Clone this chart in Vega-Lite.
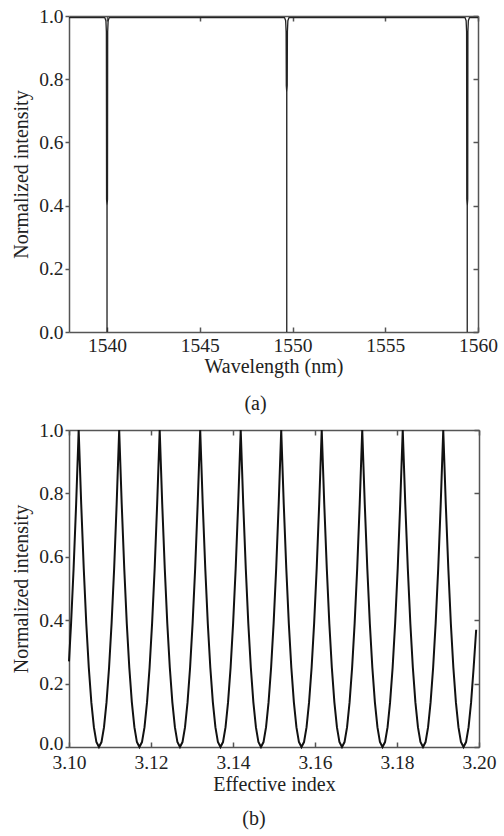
{
  "$schema": "https://vega.github.io/schema/vega-lite/v6.json",
  "padding": {"left": 11, "top": 6, "right": 5, "bottom": 3},
  "spacing": 6,
  "config": {
    "font": "Liberation Serif",
    "view": {"stroke": null},
    "axis": {
      "labelFont": "Liberation Serif", "labelFontSize": 19.5, "labelColor": "#222", "labelFlush": false,
      "titleFont": "Liberation Serif", "titleFontSize": 20, "titleFontWeight": "normal", "titleColor": "#222",
      "domainColor": "#555", "domainWidth": 1.5, "tickColor": "#555", "tickWidth": 1.5, "grid": false
    },
    "title": {"font": "Liberation Serif", "fontSize": 20, "fontWeight": "normal", "color": "#222"}
  },
  "vconcat": [
    {
      "width": 409, "height": 316,
      "title": {"text": "(a)", "orient": "bottom", "anchor": "middle", "frame": "group", "offset": 17, "dx": -18},
      "data": {"values": [
        {"w": 1537.95, "i": 0.995},
        {"w": 1539.88, "i": 0.995}, {"w": 1539.94, "i": 0.985}, {"w": 1539.965, "i": 0.95}, {"w": 1539.975, "i": 0.42}, {"w": 1539.998, "i": 0.40}, {"w": 1540.0, "i": 0.0}, {"w": 1540.002, "i": 0.40}, {"w": 1540.025, "i": 0.42}, {"w": 1540.035, "i": 0.95}, {"w": 1540.06, "i": 0.985}, {"w": 1540.12, "i": 0.995},
        {"w": 1549.57, "i": 0.995}, {"w": 1549.63, "i": 0.985}, {"w": 1549.655, "i": 0.95}, {"w": 1549.665, "i": 0.78}, {"w": 1549.688, "i": 0.76}, {"w": 1549.69, "i": 0.0}, {"w": 1549.692, "i": 0.76}, {"w": 1549.715, "i": 0.78}, {"w": 1549.725, "i": 0.95}, {"w": 1549.75, "i": 0.985}, {"w": 1549.81, "i": 0.995},
        {"w": 1559.30, "i": 0.995}, {"w": 1559.36, "i": 0.985}, {"w": 1559.385, "i": 0.95}, {"w": 1559.395, "i": 0.42}, {"w": 1559.418, "i": 0.40}, {"w": 1559.42, "i": 0.0}, {"w": 1559.422, "i": 0.40}, {"w": 1559.445, "i": 0.42}, {"w": 1559.455, "i": 0.95}, {"w": 1559.48, "i": 0.985}, {"w": 1559.54, "i": 0.995},
        {"w": 1560.0, "i": 0.995}
      ]},
      "layer": [
        {
          "mark": {"type": "line", "color": "#222", "strokeWidth": 1.3},
          "encoding": {
            "x": {"field": "w", "type": "quantitative", "scale": {"domain": [1537.95, 1560], "nice": false, "zero": false},
                  "axis": {"orient": "bottom", "title": "Wavelength (nm)", "values": [1540, 1545, 1550, 1555, 1560], "format": "d", "tickSize": -5, "labelPadding": 9, "titlePadding": 2}},
            "y": {"field": "i", "type": "quantitative", "scale": {"domain": [0, 1], "nice": false},
                  "axis": {"orient": "left", "title": "Normalized intensity", "values": [0, 0.2, 0.4, 0.6, 0.8, 1.0], "format": ".1f", "tickSize": 4, "labelPadding": 2, "titlePadding": 7}}
          }
        },
        {
          "mark": {"type": "line", "opacity": 0},
          "encoding": {
            "x": {"field": "w", "type": "quantitative", "scale": {"domain": [1537.95, 1560], "nice": false, "zero": false},
                  "axis": {"orient": "top", "title": null, "labels": false, "values": [1540, 1545, 1550, 1555, 1560], "tickSize": -5}},
            "y": {"field": "i", "type": "quantitative", "scale": {"domain": [0, 1], "nice": false},
                  "axis": {"orient": "right", "title": null, "labels": false, "values": [0, 0.2, 0.4, 0.6, 0.8, 1.0], "tickSize": -5}}
          }
        }
      ],
      "resolve": {"axis": {"x": "independent", "y": "independent"}}
    },
    {
      "width": 410, "height": 317,
      "title": {"text": "(b)", "orient": "bottom", "anchor": "middle", "frame": "group", "offset": 14, "dx": -20},
      "data": {"values": [
        {"n": 3.100, "i": 0.27}, {"n": 3.10051, "i": 0.3906}, {"n": 3.10112, "i": 0.5625}, {"n": 3.10174, "i": 0.7656},
        {"n": 3.10236, "i": 1}, {"n": 3.10298, "i": 0.7656}, {"n": 3.10360, "i": 0.5625}, {"n": 3.10421, "i": 0.3906}, {"n": 3.10483, "i": 0.25}, {"n": 3.10545, "i": 0.1406}, {"n": 3.10607, "i": 0.0625}, {"n": 3.10668, "i": 0.0156}, {"n": 3.10730, "i": 0}, {"n": 3.10792, "i": 0.0156}, {"n": 3.10854, "i": 0.0625}, {"n": 3.10915, "i": 0.1406}, {"n": 3.10977, "i": 0.25}, {"n": 3.11039, "i": 0.3906}, {"n": 3.11101, "i": 0.5625}, {"n": 3.11162, "i": 0.7656},
        {"n": 3.11224, "i": 1}, {"n": 3.11286, "i": 0.7656}, {"n": 3.11348, "i": 0.5625}, {"n": 3.11409, "i": 0.3906}, {"n": 3.11471, "i": 0.25}, {"n": 3.11533, "i": 0.1406}, {"n": 3.11595, "i": 0.0625}, {"n": 3.11656, "i": 0.0156}, {"n": 3.11718, "i": 0}, {"n": 3.11780, "i": 0.0156}, {"n": 3.11842, "i": 0.0625}, {"n": 3.11903, "i": 0.1406}, {"n": 3.11965, "i": 0.25}, {"n": 3.12027, "i": 0.3906}, {"n": 3.12089, "i": 0.5625}, {"n": 3.12150, "i": 0.7656},
        {"n": 3.12212, "i": 1}, {"n": 3.12274, "i": 0.7656}, {"n": 3.12336, "i": 0.5625}, {"n": 3.12397, "i": 0.3906}, {"n": 3.12459, "i": 0.25}, {"n": 3.12521, "i": 0.1406}, {"n": 3.12583, "i": 0.0625}, {"n": 3.12644, "i": 0.0156}, {"n": 3.12706, "i": 0}, {"n": 3.12768, "i": 0.0156}, {"n": 3.12830, "i": 0.0625}, {"n": 3.12891, "i": 0.1406}, {"n": 3.12953, "i": 0.25}, {"n": 3.13015, "i": 0.3906}, {"n": 3.13077, "i": 0.5625}, {"n": 3.13138, "i": 0.7656},
        {"n": 3.13200, "i": 1}, {"n": 3.13262, "i": 0.7656}, {"n": 3.13324, "i": 0.5625}, {"n": 3.13385, "i": 0.3906}, {"n": 3.13447, "i": 0.25}, {"n": 3.13509, "i": 0.1406}, {"n": 3.13571, "i": 0.0625}, {"n": 3.13632, "i": 0.0156}, {"n": 3.13694, "i": 0}, {"n": 3.13756, "i": 0.0156}, {"n": 3.13818, "i": 0.0625}, {"n": 3.13879, "i": 0.1406}, {"n": 3.13941, "i": 0.25}, {"n": 3.14003, "i": 0.3906}, {"n": 3.14065, "i": 0.5625}, {"n": 3.14126, "i": 0.7656},
        {"n": 3.14188, "i": 1}, {"n": 3.14250, "i": 0.7656}, {"n": 3.14312, "i": 0.5625}, {"n": 3.14373, "i": 0.3906}, {"n": 3.14435, "i": 0.25}, {"n": 3.14497, "i": 0.1406}, {"n": 3.14559, "i": 0.0625}, {"n": 3.14620, "i": 0.0156}, {"n": 3.14682, "i": 0}, {"n": 3.14744, "i": 0.0156}, {"n": 3.14806, "i": 0.0625}, {"n": 3.14867, "i": 0.1406}, {"n": 3.14929, "i": 0.25}, {"n": 3.14991, "i": 0.3906}, {"n": 3.15053, "i": 0.5625}, {"n": 3.15114, "i": 0.7656},
        {"n": 3.15176, "i": 1}, {"n": 3.15238, "i": 0.7656}, {"n": 3.15300, "i": 0.5625}, {"n": 3.15361, "i": 0.3906}, {"n": 3.15423, "i": 0.25}, {"n": 3.15485, "i": 0.1406}, {"n": 3.15547, "i": 0.0625}, {"n": 3.15608, "i": 0.0156}, {"n": 3.15670, "i": 0}, {"n": 3.15732, "i": 0.0156}, {"n": 3.15794, "i": 0.0625}, {"n": 3.15855, "i": 0.1406}, {"n": 3.15917, "i": 0.25}, {"n": 3.15979, "i": 0.3906}, {"n": 3.16041, "i": 0.5625}, {"n": 3.16102, "i": 0.7656},
        {"n": 3.16164, "i": 1}, {"n": 3.16226, "i": 0.7656}, {"n": 3.16288, "i": 0.5625}, {"n": 3.16349, "i": 0.3906}, {"n": 3.16411, "i": 0.25}, {"n": 3.16473, "i": 0.1406}, {"n": 3.16535, "i": 0.0625}, {"n": 3.16596, "i": 0.0156}, {"n": 3.16658, "i": 0}, {"n": 3.16720, "i": 0.0156}, {"n": 3.16782, "i": 0.0625}, {"n": 3.16843, "i": 0.1406}, {"n": 3.16905, "i": 0.25}, {"n": 3.16967, "i": 0.3906}, {"n": 3.17029, "i": 0.5625}, {"n": 3.17090, "i": 0.7656},
        {"n": 3.17152, "i": 1}, {"n": 3.17214, "i": 0.7656}, {"n": 3.17276, "i": 0.5625}, {"n": 3.17337, "i": 0.3906}, {"n": 3.17399, "i": 0.25}, {"n": 3.17461, "i": 0.1406}, {"n": 3.17523, "i": 0.0625}, {"n": 3.17584, "i": 0.0156}, {"n": 3.17646, "i": 0}, {"n": 3.17708, "i": 0.0156}, {"n": 3.17770, "i": 0.0625}, {"n": 3.17831, "i": 0.1406}, {"n": 3.17893, "i": 0.25}, {"n": 3.17955, "i": 0.3906}, {"n": 3.18017, "i": 0.5625}, {"n": 3.18078, "i": 0.7656},
        {"n": 3.18140, "i": 1}, {"n": 3.18202, "i": 0.7656}, {"n": 3.18264, "i": 0.5625}, {"n": 3.18325, "i": 0.3906}, {"n": 3.18387, "i": 0.25}, {"n": 3.18449, "i": 0.1406}, {"n": 3.18511, "i": 0.0625}, {"n": 3.18572, "i": 0.0156}, {"n": 3.18634, "i": 0}, {"n": 3.18696, "i": 0.0156}, {"n": 3.18758, "i": 0.0625}, {"n": 3.18819, "i": 0.1406}, {"n": 3.18881, "i": 0.25}, {"n": 3.18943, "i": 0.3906}, {"n": 3.19005, "i": 0.5625}, {"n": 3.19066, "i": 0.7656},
        {"n": 3.19128, "i": 1}, {"n": 3.19190, "i": 0.7656}, {"n": 3.19252, "i": 0.5625}, {"n": 3.19313, "i": 0.3906}, {"n": 3.19375, "i": 0.25}, {"n": 3.19437, "i": 0.1406}, {"n": 3.19499, "i": 0.0625}, {"n": 3.19560, "i": 0.0156}, {"n": 3.19622, "i": 0}, {"n": 3.19684, "i": 0.0156}, {"n": 3.19746, "i": 0.0625}, {"n": 3.19807, "i": 0.1406}, {"n": 3.19869, "i": 0.25}, {"n": 3.19931, "i": 0.37}
      ]},
      "layer": [
        {
          "mark": {"type": "line", "color": "#111", "strokeWidth": 2},
          "encoding": {
            "x": {"field": "n", "type": "quantitative", "scale": {"domain": [3.10, 3.20], "nice": false, "zero": false},
                  "axis": {"orient": "bottom", "title": "Effective index", "values": [3.10, 3.12, 3.14, 3.16, 3.18, 3.20], "format": ".2f", "tickSize": -5, "labelPadding": 11, "titlePadding": 3}},
            "y": {"field": "i", "type": "quantitative", "scale": {"domain": [0, 1], "nice": false},
                  "axis": {"orient": "left", "title": "Normalized intensity", "values": [0, 0.2, 0.4, 0.6, 0.8, 1.0], "format": ".1f", "tickSize": 4, "labelPadding": 2, "titlePadding": 7,
                           "labelOffset": {"condition": {"test": "datum.value === 0", "value": -4}, "value": 0}}}
          }
        },
        {
          "mark": {"type": "line", "opacity": 0},
          "encoding": {
            "x": {"field": "n", "type": "quantitative", "scale": {"domain": [3.10, 3.20], "nice": false, "zero": false},
                  "axis": {"orient": "top", "title": null, "labels": false, "values": [3.10, 3.12, 3.14, 3.16, 3.18, 3.20], "tickSize": -5}},
            "y": {"field": "i", "type": "quantitative", "scale": {"domain": [0, 1], "nice": false},
                  "axis": {"orient": "right", "title": null, "labels": false, "values": [0, 0.2, 0.4, 0.6, 0.8, 1.0], "tickSize": -5}}
          }
        }
      ],
      "resolve": {"axis": {"x": "independent", "y": "independent"}}
    }
  ]
}
